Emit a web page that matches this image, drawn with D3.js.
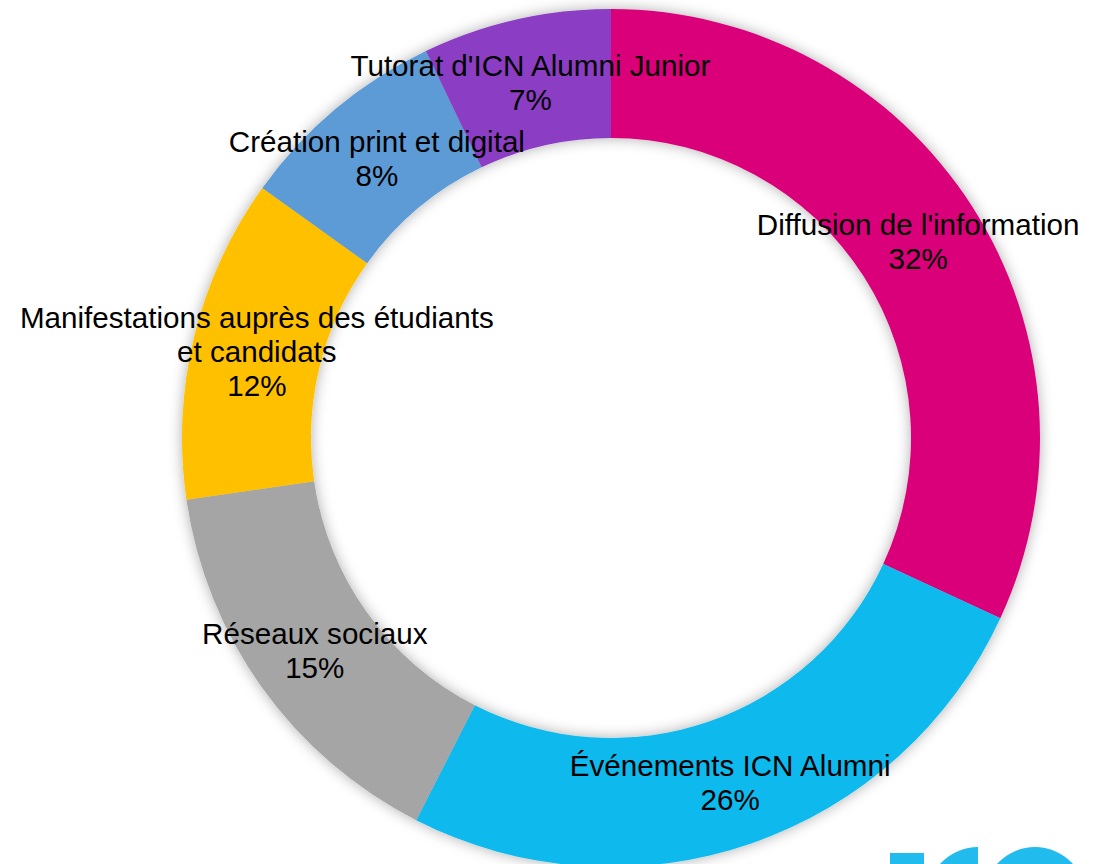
<!DOCTYPE html>
<html>
<head>
<meta charset="utf-8">
<script src="https://cdn.jsdelivr.net/npm/d3@7"></script>
<style>
  html, body { margin: 0; padding: 0; background: #fff; overflow: hidden; }
  svg#donut_chart { width: 1107px; height: 864px; display: block; }
  .slice_label { font-family: "Liberation Sans", Arial, sans-serif; font-size: 29.6px; fill: #000; }
</style>
</head>
<body>
<svg id="donut_chart"></svg>
<script>
const CATEGORIES = [
    "Diffusion de l'information",
    "Événements ICN Alumni",
    "Réseaux sociaux",
    "Manifestations auprès des étudiants\net candidats",
    "Création print et digital",
    "Tutorat d'ICN Alumni Junior"
]
const SHARES = [31.9, 25.6, 15.2, 12.2, 8.0, 7.1]
const COLORS = ["#d9007a", "#0cb9ed", "#a5a5a5", "#ffc000", "#5b9bd5", "#8b3cc3"]

var donut_svg

function build_donut_chart() {
    donut_svg = d3.select("svg#donut_chart");
    var svg_width = parseInt(donut_svg.style("width").slice(0, -2));
    var svg_height = parseInt(donut_svg.style("height").slice(0, -2));

    const center = { "x": 611, "y": 438 }
    const outerRadius = 429;
    const innerRadius = 300;
    const LINE_HEIGHT = 34;

    var dataset = CATEGORIES.map((c, i) => ({"name": c, "value": SHARES[i], "color": COLORS[i]}));

    // soft shadow round the ring, no offset
    var defs = donut_svg.append("defs");
    var shadow = defs.append("filter")
        .attr("id", "ring_shadow")
        .attr("x", "-20%").attr("y", "-20%")
        .attr("width", "140%").attr("height", "140%");
    shadow.append("feDropShadow")
        .attr("dx", 0).attr("dy", 0)
        .attr("stdDeviation", 7)
        .attr("flood-color", "#000")
        .attr("flood-opacity", 0.32);

    let pie = d3.pie()
        .value(d => d.value)
        .sort(null);

    let arc = d3.arc()
        .innerRadius(innerRadius)
        .outerRadius(outerRadius);

    const g = donut_svg.append("g")
        .attr("transform", "translate(" + center.x + "," + center.y + ")");

    g.append("g")
        .attr("filter", "url(#ring_shadow)")
        .selectAll("path")
        .data(pie(dataset))
        .join("path")
        .attr("d", arc)
        .attr("fill", d => d.data.color);

    var labels = g.append("g")
        .selectAll("text")
        .data(pie(dataset))
        .join("text")
        .attr("class", "slice_label")
        .attr("text-anchor", "middle")
        .attr("transform", d => "translate(" + arc.centroid(d) + ")");

    labels.each(function(d) {
        var lines = d.data.name.split("\n").concat([Math.round(d.data.value) + "%"]);
        var txt = d3.select(this);
        lines.forEach(function(line, i) {
            txt.append("tspan")
                .attr("x", 0)
                .attr("y", (i - (lines.length - 1) / 2) * LINE_HEIGHT)
                .attr("dominant-baseline", "central")
                .text(line);
        });
    });

    addLogo(svg_width, svg_height);
}

// partial ICN logo peeking in at the bottom right
function addLogo(svg_width, svg_height) {
    const LOGO_COLOR = "#22bbed";
    var logo = donut_svg.append("g");
    logo.append("rect")
        .attr("x", svg_width - 217)
        .attr("y", svg_height - 11)
        .attr("width", 34)
        .attr("height", 40)
        .attr("fill", LOGO_COLOR);
    logo.append("path")
        .attr("transform", "translate(" + (svg_width - 129) + "," + (svg_height + 34) + ")")
        .attr("d", d3.arc().innerRadius(22).outerRadius(51).startAngle(-Math.PI).endAngle(0)())
        .attr("fill", LOGO_COLOR);
    logo.append("circle")
        .attr("cx", svg_width - 72)
        .attr("cy", svg_height + 34)
        .attr("r", 51)
        .attr("fill", LOGO_COLOR);
}

build_donut_chart();
</script>
</body>
</html>
